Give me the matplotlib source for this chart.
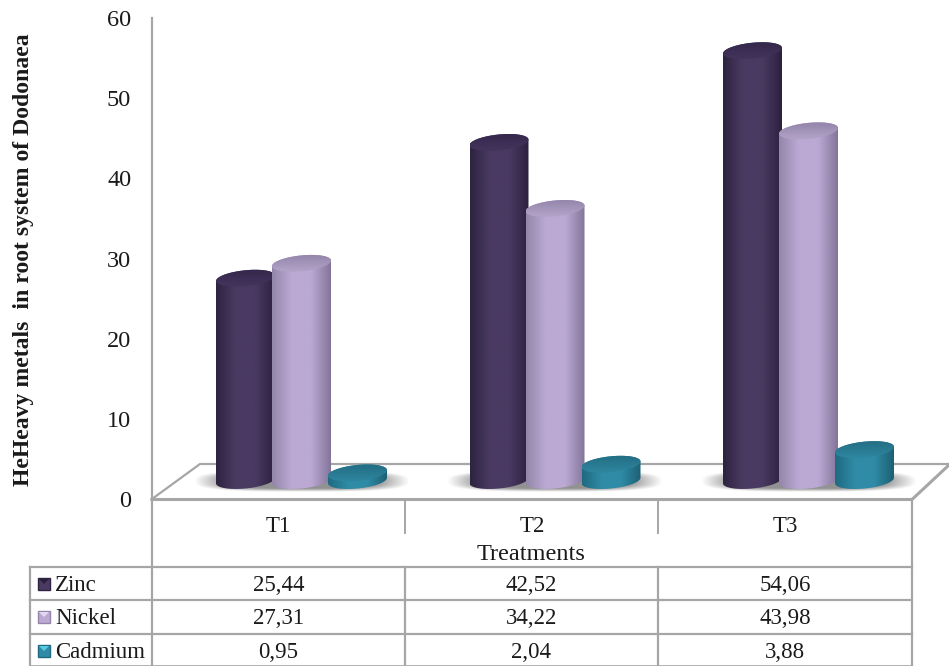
import matplotlib
matplotlib.use('Agg')
import matplotlib.pyplot as plt
from matplotlib.colors import LinearSegmentedColormap
from matplotlib.patches import PathPatch, Polygon, Rectangle
from matplotlib.path import Path
import numpy as np

treatments = ['T1', 'T2', 'T3']
series_names = ['Zinc', 'Nickel', 'Cadmium']
zinc = [25.44, 42.52, 54.06]
nickel = [27.31, 34.22, 43.98]
cadmium = [0.95, 2.04, 3.88]
series_values = [zinc, nickel, cadmium]

W, H = 949, 666
GRID = '#a6a6a6'
TEXT = '#1a1a1a'

# edge, middle and cap shades of the cylinders
body_colors = [
    ['#2e2340', '#4a3a62', '#2c2140'],
    ['#9486aa', '#bba9d3', '#83759a'],
    ['#1f6a80', '#2f8ba6', '#1c6074'],
]
cap_colors = [
    ['#33264a', '#45365e'],
    ['#8f80a6', '#b8a8cd'],
    ['#226a80', '#2f8aa3'],
]
key_tops = ['#2a1f3c', '#e2d8f0', '#58cbe2']

plt.rcParams['font.family'] = ['Liberation Serif', 'DejaVu Serif']
fig = plt.figure(figsize=(W / 100, H / 100), dpi=100)


def pixel_box(left, top, right, bottom):
    return [left / W, 1 - bottom / H, (right - left) / W, (bottom - top) / H]


# pixel layer for the floor and the data table
px = fig.add_axes([0, 0, 1, 1], zorder=1)
px.set_xlim(0, W)
px.set_ylim(H, 0)
px.axis('off')

# value axis and category labels
ax = fig.add_axes(pixel_box(152, 18, 912, 499), zorder=2)
ax.patch.set_alpha(0)
ax.set_ylim(0, 60)
ax.set_xlim(-0.5, 2.5)
for side in ['top', 'right', 'bottom']:
    ax.spines[side].set_visible(False)
ax.spines['left'].set_color(GRID)
ax.spines['left'].set_linewidth(1.6)
ax.set_yticks(range(0, 61, 10))
ax.tick_params(axis='y', length=0, pad=15, labelsize=17.5, labelcolor=TEXT)
ax.set_xticks(range(3))
ax.set_xticklabels(treatments)
ax.tick_params(axis='x', length=0, pad=12, labelsize=16.5, labelcolor=TEXT)
ax.set_ylabel('HeHeavy metals  in root system of Dodonaea', fontsize=17.1,
              fontweight='bold', color=TEXT)
ax.yaxis.set_label_coords((34 - 152) / 760, 0.498)

# floor of the 3D plot
px.plot([152, 200, W], [499, 464, 464], color=GRID, lw=1.6)
px.plot([152, 912, W], [499.5, 499.5, 465], color=GRID, lw=2.2)

# table lines
for y in [567, 600, 634]:
    px.plot([30, 912], [y, y], color=GRID, lw=1.6)
px.plot([152, 152], [499, H], color=GRID, lw=1.6)
px.plot([30, 30], [567, H], color=GRID, lw=1.6)
for x in [405, 658]:
    px.plot([x, x], [499, 533], color=GRID, lw=1.4)
    px.plot([x, x], [567, H], color=GRID, lw=1.6)
px.plot([912, 912], [499, H], color=GRID, lw=1.6)
px.plot([30, 912], [665.5, 665.5], color=GRID, lw=1.2)

px.text(531, 555, 'Treatments', ha='center', va='center', fontsize=17.5, color=TEXT)

row_y = [591, 624, 658]
col_x = [278.5, 531.5, 785]
for name, values, y, body, top in zip(series_names, series_values, row_y, body_colors, key_tops):
    px.add_patch(Rectangle((38, y - 13), 12, 12, facecolor=body[1], edgecolor=body[0], lw=1))
    px.add_patch(Polygon([(39, y - 12), (49, y - 12), (44, y - 7)], facecolor=top, lw=0))
    px.text(55, y, name, ha='left', va='baseline', fontsize=16.5, color=TEXT)
    for x, v in zip(col_x, values):
        px.text(x, y, f'{v:.2f}'.replace('.', ','), ha='center', va='baseline',
                fontsize=16.5, color=TEXT)

# cylinders: category index on x, value on y, base of the bars at pixel 480.5
PX_PER_UNIT = 7.95
BASE_PX = 480.5
GROUP_STEP = 253.5
FIRST_GROUP = 301.5
bars = fig.add_axes([0, 0, 1, 1], zorder=3)
bars.patch.set_alpha(0)
bars.axis('off')

half_w = 29.5 / GROUP_STEP
half_h = 8.0 / PX_PER_UNIT
tilt = 2.8 / PX_PER_UNIT
offset = 56.0 / GROUP_STEP


def rim(cx, v, start, stop):
    t = np.linspace(start, stop, 60)
    return np.column_stack([cx + half_w * np.cos(t),
                            v + half_h * np.sin(t) + tilt * np.cos(t)])


def fill_gradient(shape, stops, extent, zorder, vertical=False):
    patch = PathPatch(Path(np.vstack([shape, shape[:1]])), facecolor='none', edgecolor='none')
    bars.add_patch(patch)
    cmap = LinearSegmentedColormap.from_list('shade', stops)
    ramp = np.linspace(0, 1, 128)
    ramp = ramp[:, None] if vertical else ramp[None, :]
    im = bars.imshow(ramp, cmap=cmap, extent=extent, aspect='auto', zorder=zorder,
                     origin='lower', interpolation='bilinear')
    im.set_clip_path(patch)


# soft shadow under each group, rounded at the ends
shade_x, shade_y = np.meshgrid(np.linspace(-1, 1, 160), np.linspace(-1, 1, 50))
radius = (np.abs(shade_x) ** 3 + np.abs(shade_y) ** 3) ** (1 / 3)
shadow = np.zeros((50, 160, 4))
shadow[..., :3] = 0.5
shadow[..., 3] = np.clip((1 - radius) / 0.3, 0, 1) * 0.85
for g in range(len(treatments)):
    bars.imshow(shadow, extent=[g - 108 / GROUP_STEP, g + 108 / GROUP_STEP, -12 / PX_PER_UNIT, 10 / PX_PER_UNIT],
                aspect='auto', zorder=1, origin='lower', interpolation='bilinear')

for s, values in enumerate(series_values):
    for g, v in enumerate(values):
        cx = g + (s - 1) * offset
        z = 2 + s * 2
        body = np.vstack([rim(cx, 0, np.pi, 2 * np.pi), rim(cx, v, 0, np.pi)])
        lo, mid, hi = body_colors[s]
        fill_gradient(body, [lo, mid, mid, hi],
                      [cx - half_w, cx + half_w, -half_h - tilt, v + half_h + tilt], z)
        cap = rim(cx, v, 0, 2 * np.pi)
        fill_gradient(cap, cap_colors[s],
                      [cx - half_w, cx + half_w, v + half_h + tilt, v - half_h - tilt], z + 1,
                      vertical=True)

bars.set_xlim(-FIRST_GROUP / GROUP_STEP, (W - FIRST_GROUP) / GROUP_STEP)
bars.set_ylim((BASE_PX - H) / PX_PER_UNIT, BASE_PX / PX_PER_UNIT)

fig.savefig('out.png', dpi=100)
